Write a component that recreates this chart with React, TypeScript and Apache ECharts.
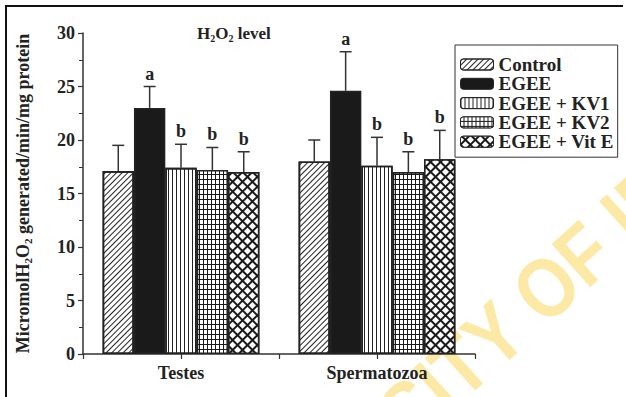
import React, { useEffect, useRef } from "react";
import * as echarts from "echarts";

const categories = ["Testes", "Spermatozoa"];
const seriesNames = ["Control", "EGEE", "EGEE + KV1", "EGEE + KV2", "EGEE + Vit E"];
const controlMean = [17.1, 18.0];
const controlSD = [2.4, 2.0];
const egeeMean = [23.0, 24.6];
const egeeSD = [2.0, 3.65];
const kv1Mean = [17.4, 17.6];
const kv1SD = [2.2, 2.65];
const kv2Mean = [17.2, 17.0];
const kv2SD = [2.1, 1.9];
const vitEMean = [17.0, 18.2];
const vitESD = [1.9, 2.7];
const controlLetters = ["", ""];
const egeeLetters = ["a", "a"];
const kv1Letters = ["b", "b"];
const kv2Letters = ["b", "b"];
const vitELetters = ["b", "b"];
const yTicks = [0, 5, 10, 15, 20, 25, 30];

const FONT = "Liberation Serif";

export default function App() {
  const ref = useRef<HTMLDivElement>(null);
  useEffect(() => {
    if (!ref.current) return;
    const chart = echarts.init(ref.current, undefined, { renderer: "svg" });
    const means = [controlMean, egeeMean, kv1Mean, kv2Mean, vitEMean];
    const sds = [controlSD, egeeSD, kv1SD, kv2SD, vitESD];
    const letters = [controlLetters, egeeLetters, kv1Letters, kv2Letters, vitELetters];

    const fills = ["#fff", "#1a1a1a", "#fff", "#1a1a1a", "#1a1a1a"];
    const decals: any[] = [
      { symbol: "rect", color: "#222", dashArrayX: [1, 0], dashArrayY: [1, 2.2], rotation: -Math.PI / 4, symbolSize: 1 },
      null,
      { symbol: "rect", color: "#222", dashArrayX: [1, 2.1], dashArrayY: [1, 0], symbolSize: 1 },
      { symbol: "rect", color: "#fff", dashArrayX: [2.2, 1], dashArrayY: [3.2, 1], symbolSize: 1 },
      { symbol: "rect", color: "#fff", dashArrayX: [4.3, 1.2], dashArrayY: [4.3, 1.2], rotation: Math.PI / 4, symbolSize: 1 },
    ];

    const barSeries = seriesNames.map((name, i) => ({
      name,
      type: "bar",
      xAxisIndex: 0,
      data: means[i],
      barGap: "0%",
      barCategoryGap: "20%",
      itemStyle: {
        color: fills[i],
        borderColor: "#222",
        borderWidth: 1.6,
        decal: decals[i] || undefined,
      },
      silent: true,
    }));

    const errData: number[][] = [];
    const errLetters: string[] = [];
    for (let s = 0; s < seriesNames.length; s++) {
      for (let c = 0; c < categories.length; c++) {
        errData.push([c, s, means[s][c], sds[s][c]]);
        errLetters.push(letters[s][c]);
      }
    }

    const errSeries = {
      type: "custom",
      xAxisIndex: 0,
      z: 5,
      silent: true,
      encode: { x: 0, y: 2 },
      data: errData,
      renderItem: (params: any, api: any) => {
        const c = api.value(0);
        const s = api.value(1);
        const mean = api.value(2);
        const sd = api.value(3);
        const band = api.size([1, 0])[0];
        const group = band * 0.8;
        const bw = group / 5;
        const center = api.coord([c, 0])[0];
        const x = center - group / 2 + (s + 0.5) * bw;
        const yTop = api.coord([c, mean])[1];
        const yErr = api.coord([c, mean + sd])[1];
        const st = { stroke: "#333", lineWidth: 1.5 };
        const children: any[] = [
          { type: "line", shape: { x1: x, y1: yTop, x2: x, y2: yErr }, style: st },
          { type: "line", shape: { x1: x - 6, y1: yErr, x2: x + 6, y2: yErr }, style: st },
        ];
        const letter = errLetters[params.dataIndex];
        if (letter) {
          children.push({
            type: "text",
            x: x,
            y: yErr - 4,
            style: {
              text: letter,
              align: "center",
              verticalAlign: "bottom",
              font: `bold 18px "${FONT}"`,
              fill: "#222",
            },
          });
        }
        return { type: "group", children };
      },
    };

    const subRich = (size: number, lh: number, pad: number) => ({
      s: { fontFamily: FONT, fontWeight: "bold", fontSize: size, color: "#222", verticalAlign: "bottom", lineHeight: lh, padding: [pad, 0, 0, 0] },
    });

    const option: any = {
      animation: false,
      backgroundColor: "#fff",
      title: {
        text: "H{s|2}O{s|2} level",
        left: 192,
        top: 18,
        textStyle: {
          fontFamily: FONT,
          fontWeight: "bold",
          fontSize: 17,
          color: "#222",
          lineHeight: 20,
          rich: subRich(10, 20, 7),
        },
      },
      legend: {
        data: seriesNames,
        orient: "vertical",
        left: 455,
        top: 45,
        padding: [10, 4, 6, 5],
        itemGap: 0.3,
        itemWidth: 33,
        itemHeight: 11,
        borderColor: "#333",
        borderWidth: 1,
        borderRadius: 0,
        backgroundColor: "#fff",
        textStyle: { fontFamily: FONT, fontWeight: "bold", fontSize: 19, color: "#222", lineHeight: 16 },
        itemStyle: { borderColor: "#222", borderWidth: 1 },
      },
      grid: { left: 83, right: 151, top: 33, bottom: 43, containLabel: false },
      xAxis: [
        {
          type: "category",
          data: categories,
          position: "bottom",
          axisLine: { lineStyle: { color: "#333", width: 1.5 } },
          axisTick: { show: true, length: 5, lineStyle: { color: "#333", width: 1.2 } },
          axisLabel: { margin: 10, fontFamily: FONT, fontWeight: "bold", fontSize: 18, color: "#222" },
        },
        {
          type: "category",
          data: categories,
          position: "bottom",
          offset: 0,
          axisLine: { show: false },
          axisTick: { show: true, alignWithLabel: true, length: 5, lineStyle: { color: "#333", width: 1.2 } },
          axisLabel: { show: false },
        },
      ],
      yAxis: {
        type: "value",
        min: yTicks[0],
        max: yTicks[yTicks.length - 1],
        interval: 5,
        name: "MicromolH{s|2}O{s|2} generated/min/mg protein",
        nameLocation: "middle",
        nameRotate: 90,
        nameGap: 50,
        nameTextStyle: {
          fontFamily: FONT,
          fontWeight: "bold",
          fontSize: 18,
          color: "#222",
          lineHeight: 20,
          rich: subRich(11, 20, 7),
        },
        axisLine: { show: true, lineStyle: { color: "#333", width: 1.5 } },
        axisTick: { show: true, length: 5, lineStyle: { color: "#333", width: 1.2 } },
        minorTick: { show: true, splitNumber: 2, length: 4, lineStyle: { color: "#333", width: 1 } },
        splitLine: { show: false },
        axisLabel: { margin: 8, fontFamily: FONT, fontWeight: "bold", fontSize: 18, color: "#222" },
      },
      graphic: [
        {
          type: "group",
          x: 547,
          y: 287,
          rotation: (42 * Math.PI) / 180,
          scaleX: 0.9,
          scaleY: 1.05,
          z: -10,
          silent: true,
          children: [
            {
              type: "text",
              x: -32,
              y: 0,
              z: -10,
              style: { text: "UNIVERSITY ", align: "right", verticalAlign: "middle", font: 'bold 80px "Liberation Sans"', fill: "#fde9a6" },
            },
            {
              type: "text",
              x: -32,
              y: 0,
              z: -10,
              style: { text: "OF IBADAN", align: "left", verticalAlign: "middle", font: 'bold 80px "Liberation Sans"', fill: "#fde9a6" },
            },
          ],
        },
        { type: "line", z: 100, shape: { x1: 6, y1: 5, x2: 6, y2: 397 }, style: { stroke: "#111", lineWidth: 2 } },
        { type: "line", z: 100, shape: { x1: 5, y1: 6, x2: 623, y2: 6 }, style: { stroke: "#111", lineWidth: 2 } },
      ],
      series: [...barSeries, errSeries],
    };
    chart.setOption(option);
    return () => chart.dispose();
  }, []);
  return <div ref={ref} style={{ position: "fixed", left: 0, top: 0, width: 626, height: 397 }} />;
}
